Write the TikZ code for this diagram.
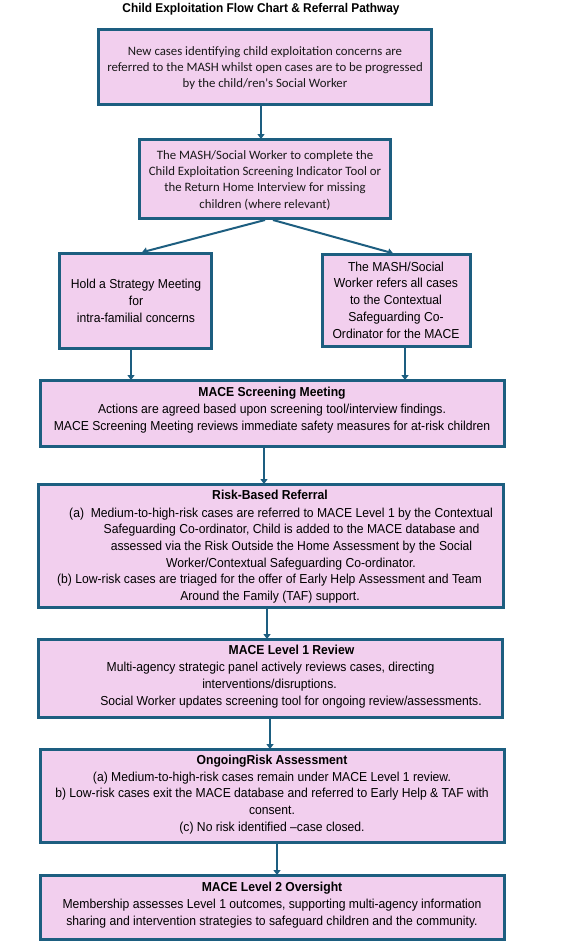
\documentclass[tikz,border=0pt]{standalone}
\usepackage{fontspec}
\setmainfont{Liberation Sans}
\newfontfamily\arialf[FakeStretch=0.935]{Liberation Sans}
\newfontfamily\calf{Carlito}
\usetikzlibrary{arrows.meta}
\definecolor{boxfill}{HTML}{F2CFEE}
\definecolor{boxline}{HTML}{1D5E80}
\begin{document}
\begin{tikzpicture}[x=1pt,y=-1pt,
  box/.style={draw=boxline, fill=boxfill, line width=2.8pt, inner sep=0pt},
  txt/.style={font=\arialf\fontsize{13}{16.7}\selectfont, align=center, inner sep=0pt, text=black},
  ctxt/.style={font=\calf\fontsize{12.8}{16.3}\selectfont, align=center, inner sep=0pt, text=black!90},
  ln/.style={txt, anchor=base},
  arr/.style={draw=boxline, line width=2pt, -{Triangle[width=7pt,length=5pt]}, shorten >=-1pt}
]
\fill[white] (0,0) rectangle (564,943);
\useasboundingbox (0,0) rectangle (564,943);

\node[txt, font=\arialf\bfseries\fontsize{12.7}{14}\selectfont] (title) at (261,9) {Child Exploitation Flow Chart \& Referral Pathway};

\node[box, minimum width=333.2pt, minimum height=75.2pt] (b1) at (265,67) {};
\node[box, minimum width=251.2pt, minimum height=79.2pt] (b2) at (265,179) {};
\node[box, minimum width=152.2pt, minimum height=95.2pt] (b3) at (135.5,301) {};
\node[box, minimum width=148.2pt, minimum height=92.2pt] (b4) at (396.5,300.5) {};
\node[box, minimum width=464.2pt, minimum height=66.2pt] (b5) at (272.5,413.5) {};
\node[box, minimum width=465.2pt, minimum height=123.2pt] (b6) at (271,546) {};
\node[box, minimum width=464.2pt, minimum height=78.2pt] (b7) at (270.5,678.5) {};
\node[box, minimum width=464.2pt, minimum height=93.2pt] (b8) at (272.5,796) {};
\node[box, minimum width=464.2pt, minimum height=64.2pt] (b9) at (272.5,907.5) {};

% texts
\node[ctxt] (t1) at (265,68) {New cases identifying child exploitation concerns are\\referred to the MASH whilst open cases are to be progressed\\by the child/ren's Social Worker};
\node[ctxt] (t2) at (265,180) {The MASH/Social Worker to complete the\\Child Exploitation Screening Indicator Tool or\\the Return Home Interview for missing\\children (where relevant)};
\node[txt] (t3) at (136,301) {Hold a Strategy Meeting\\for\\intra-familial concerns};
\node[txt] (t4) at (396,300) {The MASH/Social\\Worker refers all cases\\to the Contextual\\Safeguarding Co-\\Ordinator for the MACE};
\node[txt] (t5) at (272,410) {\textbf{MACE Screening Meeting}\\Actions are agreed based upon screening tool/interview findings.\\MACE Screening Meeting reviews immediate safety measures for at-risk children};

\node[ln] (t6a) at (270,499.5) {\textbf{Risk-Based Referral}};
\node[ln] (t6b) at (281,517.5) {(a)\ \ Medium-to-high-risk cases are referred to MACE Level 1 by the Contextual};
\node[ln] (t6c) at (291.5,533.5) {Safeguarding Co-ordinator, Child is added to the MACE database and};
\node[ln] (t6d) at (291.5,550.5) {assessed via the Risk Outside the Home Assessment by the Social};
\node[ln] (t6e) at (291,567.5) {Worker/Contextual Safeguarding Co-ordinator.};
\node[ln] (t6f) at (269.5,583.5) {(b) Low-risk cases are triaged for the offer of Early Help Assessment and Team};
\node[ln] (t6g) at (270,600.5) {Around the Family (TAF) support.};

\node[ln] (t7a) at (291.5,654.5) {\textbf{MACE Level 1 Review}};
\node[ln] (t7b) at (270.5,671.5) {Multi-agency strategic panel actively reviews cases, directing};
\node[ln] (t7c) at (269.5,688.5) {interventions/disruptions.};
\node[ln] (t7d) at (291,705.5) {Social Worker updates screening tool for ongoing review/assessments.};

\node[txt] (t8) at (272,794.5) {\textbf{OngoingRisk Assessment}\\(a) Medium-to-high-risk cases remain under MACE Level 1 review.\\b) Low-risk cases exit the MACE database and referred to Early Help \& TAF with\\consent.\\(c) No risk identified –case closed.};
\node[txt] (t9) at (272,905) {\textbf{MACE Level 2 Oversight}\\Membership assesses Level 1 outcomes, supporting multi-agency information\\sharing and intervention strategies to safeguard children and the community.};

% connectors
\draw[arr] (b1.south -| 261,0) -- (b2.north -| 261,0);
\draw[arr] (b2.south -| 265,0) -- (b3.north -| 143,0);
\draw[arr] (b2.south -| 273,0) -- (b4.north -| 392,0);
\draw[arr] (b3.south -| 131,0) -- (b5.north -| 131,0);
\draw[arr] (b4.south -| 405,0) -- (b5.north -| 405,0);
\draw[arr] (b5.south -| 264,0) -- (b6.north -| 264,0);
\draw[arr] (b6.south -| 267,0) -- (b7.north -| 267,0);
\draw[arr] (b7.south -| 270,0) -- (b8.north -| 270,0);
\draw[arr] (b8.south -| 277,0) -- (b9.north -| 277,0);
\end{tikzpicture}
\end{document}
